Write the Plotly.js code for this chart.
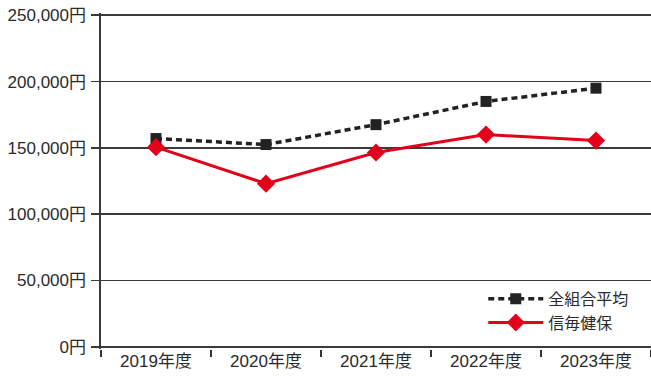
<!DOCTYPE html>
<html><head><meta charset="utf-8">
<script src="https://cdn.plot.ly/plotly-3.0.1.min.js"></script>
<style>body{margin:0;background:#fff}#c{width:651px;height:376px}</style>
</head><body><div id="c"></div>
<script>
const categories = ["2019年度","2020年度","2021年度","2022年度","2023年度"];
const allAvg = [157000, 152500, 167500, 185000, 195000];
const shinmai = [150500, 123000, 146500, 160000, 155500];
const yTickVals = [0,50000,100000,150000,200000,250000];
const yTickText = ["0円","50,000円","100,000円","150,000円","200,000円","250,000円"];

const fam = '"Liberation Sans","Noto Sans CJK JP",sans-serif';
const traces = [
  {x:categories, y:allAvg, name:"全組合平均", mode:"lines+markers", type:"scatter",
   line:{color:'#222', width:3.5, dash:'6px,4px'},
   marker:{symbol:'square', size:11, color:'#222'}},
  {x:categories, y:shinmai, name:"信毎健保", mode:"lines+markers", type:"scatter",
   line:{color:'#e2001a', width:3},
   marker:{symbol:'diamond', size:14, color:'#e2001a'}}
];
const layout = {
  width:651, height:376, paper_bgcolor:'#fff', plot_bgcolor:'#fff',
  margin:{l:101, r:0, t:13, b:27},
  font:{family:fam, size:17, color:'#2a2a2a'}, showlegend:true,
  xaxis:{type:'category', range:[-0.5,4.5], showgrid:false, zeroline:false,
    showline:false, ticks:'outside', tickson:'boundaries', ticklen:7, tickwidth:1.5, tickcolor:'#333',
    tickfont:{size:17, color:'#2a2a2a', family:fam}},
  yaxis:{range:[-1700,251700], tickvals:yTickVals, ticktext:yTickText, showgrid:true,
    gridcolor:'#3a3a3a', gridwidth:1.6, zeroline:false, showline:true, linecolor:'#3a3a3a', linewidth:1.6,
    ticks:'outside', ticklen:8, tickwidth:1.6, tickcolor:'#3a3a3a', ticklabelstandoff:2,
    tickfont:{size:17, color:'#2a2a2a', family:fam}},
  legend:{x:0.695, y:0.2, xanchor:'left', yanchor:'top', bgcolor:'rgba(255,255,255,0)',
    itemwidth:55, tracegroupgap:0, font:{size:16, color:'#2a2a2a', family:fam}}
};
Plotly.newPlot('c', traces, layout, {displayModeBar:false, staticPlot:true});
</script></body></html>
